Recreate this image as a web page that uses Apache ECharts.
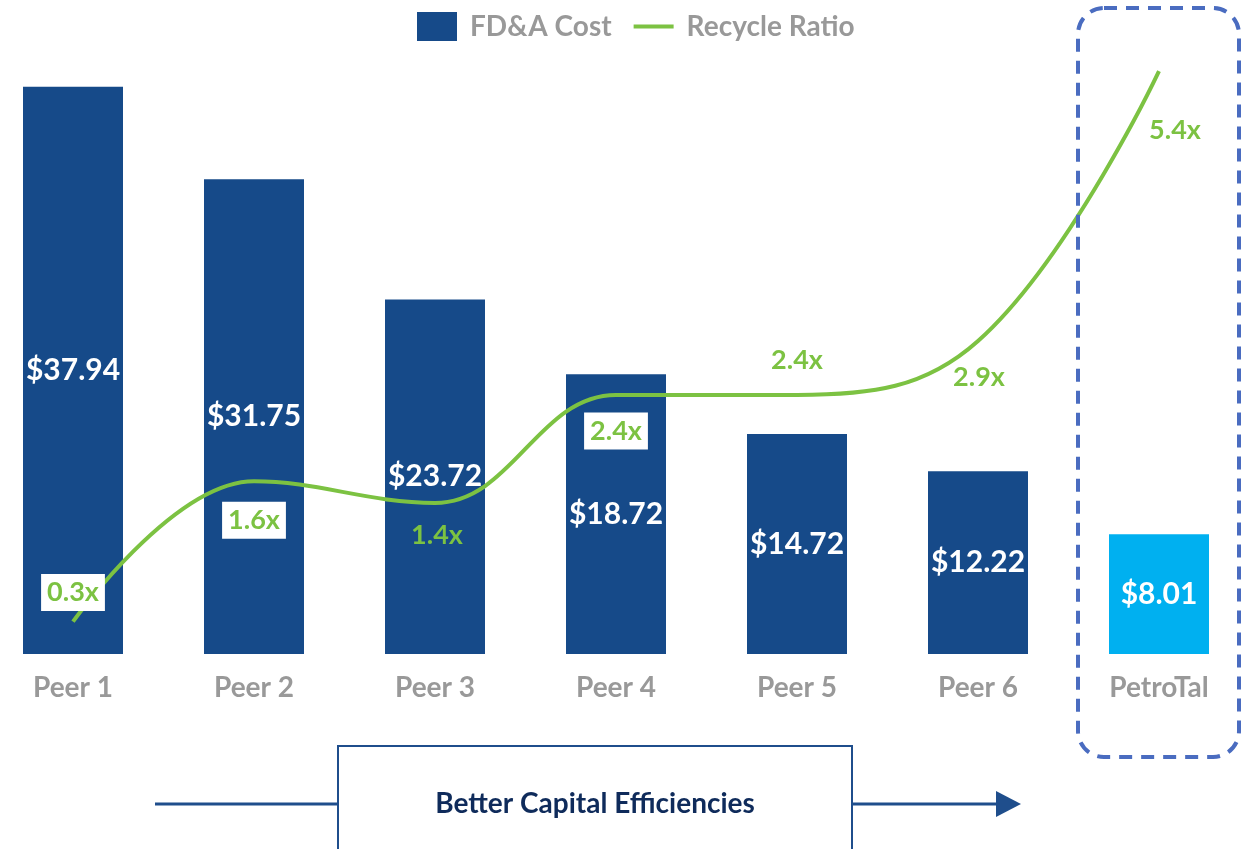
<!DOCTYPE html>
<html>
<head>
<meta charset="utf-8">
<script src="https://cdn.jsdelivr.net/npm/echarts@6/dist/echarts.min.js"></script>
<style>
html,body{margin:0;padding:0;background:#fff;}
#chart{width:1248px;height:849px;}
</style>
</head>
<body>
<div id="chart"></div>
<script>
const categories = ['Peer 1','Peer 2','Peer 3','Peer 4','Peer 5','Peer 6','PetroTal'];
const fdaCost = [37.94, 31.75, 23.72, 18.72, 14.72, 12.22, 8.01];
const recycleRatio = [0.3, 1.6, 1.4, 2.4, 2.4, 2.9, 5.4];

const BLUE = '#164A89';
const CYAN = '#00B0F0';
const GREEN = '#7CC242';
const GREY = '#999999';
const FONT = 'Lato';

// label placement per point (style only)
const lineLabelStyle = [
  {offset:[0,-29], bg:true},
  {offset:[0,39], bg:true},
  {offset:[2,32], bg:false},
  {offset:[0,36], bg:true},
  {offset:[0,-35], bg:false},
  {offset:[1,36], bg:false},
  {offset:[16,59], bg:false}
];

const chart = echarts.init(document.getElementById('chart'));
chart.setOption({
  animation:false,
  legend:{
    left:417, top:12, padding:0,
    itemWidth:40, itemHeight:29, itemGap:20,
    textStyle:{color:GREY, fontSize:28, fontWeight:'bold', fontFamily:FONT, padding:[0,0,0,8]},
    data:[{name:'FD&A Cost', icon:'rect'},
          {name:'Recycle Ratio', itemStyle:{opacity:0}, lineStyle:{width:4, color:GREEN}}]
  },
  grid:{left:-17.5, width:1267, top:56, bottom:195, containLabel:false, outerBoundsMode:'none'},
  xAxis:{
    type:'category', data:categories,
    axisLine:{show:false}, axisTick:{show:false},
    axisLabel:{color:GREY, fontSize:28, fontWeight:'bold', fontFamily:FONT, margin:20}
  },
  yAxis:[
    {type:'value', min:0, max:40, show:false, splitLine:{show:false}},
    {type:'value', min:0, max:5.54, show:false, splitLine:{show:false}}
  ],
  series:[
    {
      name:'FD&A Cost', type:'bar', barWidth:100,
      itemStyle:{color:BLUE},
      data: fdaCost.map((v,i)=>({value:v, itemStyle:{color: i===fdaCost.length-1 ? CYAN : BLUE}})),
      label:{show:true, position:'inside', color:'#fff', fontSize:30, fontWeight:'bold', fontFamily:FONT,
        formatter:p=>'$'+p.value.toFixed(2)},
      z:2
    },
    {
      name:'Recycle Ratio', type:'line', yAxisIndex:1, smooth:0.4,
      symbol:'circle', symbolSize:0, showSymbol:true,
      lineStyle:{color:GREEN, width:4},
      itemStyle:{color:GREEN},
      data: recycleRatio.map((v,i)=>({
        value:v,
        label:{show:true, position:'inside', offset:lineLabelStyle[i].offset,
          backgroundColor: lineLabelStyle[i].bg ? '#fff' : 'transparent',
          padding:[6,6,4,6]}
      })),
      label:{show:true, color:GREEN, fontSize:27, fontWeight:'bold', fontFamily:FONT,
        formatter:p=>p.value.toFixed(1)+'x'},
      z:5
    }
  ],
  graphic:[
    {type:'rect', shape:{x:1078, y:8, width:161, height:749, r:26},
      style:{fill:'none', stroke:'#4A6CC0', lineWidth:4, lineDash:[13,9]}, z:10},
    {type:'line', shape:{x1:155, y1:804, x2:1000, y2:804},
      style:{stroke:'#1F4E8C', lineWidth:3}, z:10},
    {type:'polygon', shape:{points:[[996,791],[1021,804],[996,817]]},
      style:{fill:'#1F4E8C'}, z:10},
    {type:'rect', shape:{x:338, y:746, width:514, height:120},
      style:{fill:'#fff', stroke:'#1F4E8C', lineWidth:2}, z:11},
    {type:'text', x:595, y:804, z:12,
      style:{text:'Better Capital Efficiencies', fill:'#0F2B5B', font:'bold 28px Lato',
        textAlign:'center', textVerticalAlign:'middle'}}
  ]
});
</script>
</body>
</html>
